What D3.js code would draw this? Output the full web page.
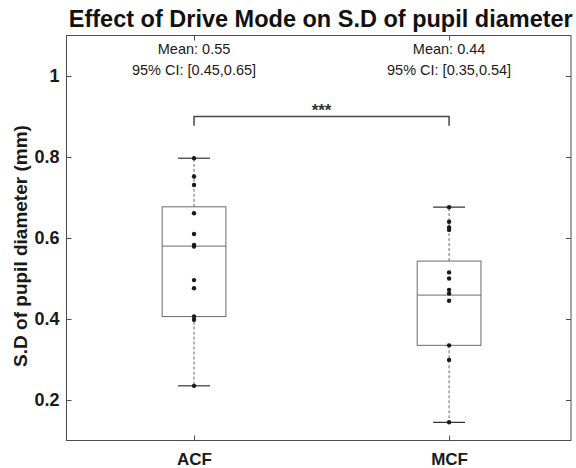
<!DOCTYPE html>
<html>
<head>
<meta charset="utf-8">
<script src="https://cdn.jsdelivr.net/npm/d3@7"></script>
<style>
  body { margin: 0; background: #fff; }
  svg text { font-family: "Liberation Sans", Arial, Helvetica, sans-serif; }
</style>
</head>
<body>
<div id="chart"></div>
<script>
// values
const categories = ["ACF", "MCF"];
const acfValues = [0.797, 0.752, 0.731, 0.661, 0.610, 0.583, 0.579, 0.496, 0.476, 0.406, 0.398, 0.235];
const mcfValues = [0.676, 0.640, 0.626, 0.620, 0.515, 0.500, 0.472, 0.463, 0.445, 0.335, 0.299, 0.145];
const whiskerLow = [0.235, 0.145];
const q1 = [0.406, 0.335];
const medians = [0.580, 0.459];
const q3 = [0.677, 0.543];
const whiskerHigh = [0.797, 0.676];
const meanLabels = ["Mean: 0.55", "Mean: 0.44"];
const ciLabels = ["95% CI: [0.45,0.65]", "95% CI: [0.35,0.54]"];
const yTicks = [0.2, 0.4, 0.6, 0.8, 1];
const sigLabel = "***";

const config = {
  width: 576,
  height: 468,
  margin: { top: 35.5, right: 5, bottom: 27.5, left: 66.5 },
};

const svg = d3
  .select("#chart")
  .append("svg")
  .attr("width", config.width)
  .attr("height", config.height);

const x = d3.scaleLinear().domain([0.5, 2.478]).range([config.margin.left, config.width - config.margin.right]);
const y = d3.scaleLinear().domain([0.1, 1.1]).range([config.height - config.margin.bottom, config.margin.top]);

const groups = categories.map((c, i) => ({
  name: c,
  pos: i + 1,
  values: i === 0 ? acfValues : mcfValues,
  lo: whiskerLow[i],
  q1: q1[i],
  med: medians[i],
  q3: q3[i],
  hi: whiskerHigh[i],
  mean: meanLabels[i],
  ci: ciLabels[i],
}));

const axisColor = "#4d4d4d";
const boxColor = "#6a6a6a";
const boxW = 0.25;
const capW = 0.125;

// frame
svg
  .append("rect")
  .attr("x", x.range()[0])
  .attr("y", y.range()[1])
  .attr("width", x.range()[1] - x.range()[0])
  .attr("height", y.range()[0] - y.range()[1])
  .attr("fill", "none")
  .attr("stroke", axisColor)
  .attr("stroke-width", 1);

// axes, ticks pointing inwards
const yAxis = svg
  .append("g")
  .attr("transform", `translate(${x.range()[0]},0)`)
  .call(d3.axisLeft(y).tickValues(yTicks).tickFormat(d3.format("")).tickSize(-5).tickPadding(7));
yAxis.select(".domain").remove();
yAxis.selectAll("line").attr("stroke", axisColor);
yAxis.selectAll("text").attr("font-size", 18).attr("font-weight", "bold").attr("fill", "#1a1a1a");

const yAxisR = svg
  .append("g")
  .attr("transform", `translate(${x.range()[1]},0)`)
  .call(d3.axisRight(y).tickValues(yTicks).tickFormat("").tickSize(-5));
yAxisR.select(".domain").remove();
yAxisR.selectAll("line").attr("stroke", axisColor);

const xAxis = svg
  .append("g")
  .attr("transform", `translate(0,${y.range()[0]})`)
  .call(d3.axisBottom(x).tickValues([1, 2]).tickFormat((d) => categories[d - 1]).tickSize(-5).tickPadding(12));
xAxis.select(".domain").remove();
xAxis.selectAll("line").attr("stroke", axisColor);
xAxis.selectAll("text").attr("font-size", 17).attr("font-weight", "bold").attr("fill", "#1a1a1a");

const xAxisT = svg
  .append("g")
  .attr("transform", `translate(0,${y.range()[1]})`)
  .call(d3.axisTop(x).tickValues([1, 2]).tickFormat("").tickSize(-5));
xAxisT.select(".domain").remove();
xAxisT.selectAll("line").attr("stroke", axisColor);

// boxes
const g = svg.selectAll(".group").data(groups).join("g").attr("class", "group");

g.append("line")
  .attr("x1", (d) => x(d.pos))
  .attr("x2", (d) => x(d.pos))
  .attr("y1", (d) => y(d.q3))
  .attr("y2", (d) => y(d.hi))
  .attr("stroke", boxColor)
  .attr("stroke-dasharray", "3,2");

g.append("line")
  .attr("x1", (d) => x(d.pos))
  .attr("x2", (d) => x(d.pos))
  .attr("y1", (d) => y(d.q1))
  .attr("y2", (d) => y(d.lo))
  .attr("stroke", boxColor)
  .attr("stroke-dasharray", "3,2");

g.selectAll(".cap")
  .data((d) => [d.lo, d.hi].map((v) => ({ pos: d.pos, v })))
  .join("line")
  .attr("class", "cap")
  .attr("x1", (d) => x(d.pos - capW / 2))
  .attr("x2", (d) => x(d.pos + capW / 2))
  .attr("y1", (d) => y(d.v))
  .attr("y2", (d) => y(d.v))
  .attr("stroke", "#333")
  .attr("stroke-width", 1.2);

g.append("rect")
  .attr("x", (d) => x(d.pos - boxW / 2))
  .attr("y", (d) => y(d.q3))
  .attr("width", (d) => x(d.pos + boxW / 2) - x(d.pos - boxW / 2))
  .attr("height", (d) => y(d.q1) - y(d.q3))
  .attr("fill", "none")
  .attr("stroke", boxColor);

g.append("line")
  .attr("x1", (d) => x(d.pos - boxW / 2))
  .attr("x2", (d) => x(d.pos + boxW / 2))
  .attr("y1", (d) => y(d.med))
  .attr("y2", (d) => y(d.med))
  .attr("stroke", boxColor);

g.selectAll("circle")
  .data((d) => d.values.map((v) => ({ pos: d.pos, v })))
  .join("circle")
  .attr("cx", (d) => x(d.pos))
  .attr("cy", (d) => y(d.v))
  .attr("r", 2.2)
  .attr("fill", "#1a1a1a");

// mean / CI annotations
g.append("text")
  .attr("x", (d) => x(d.pos))
  .attr("y", 54)
  .attr("text-anchor", "middle")
  .attr("font-size", 14.5)
  .attr("fill", "#1a1a1a")
  .text((d) => d.mean);

g.append("text")
  .attr("x", (d) => x(d.pos))
  .attr("y", 75)
  .attr("text-anchor", "middle")
  .attr("font-size", 14.5)
  .attr("fill", "#1a1a1a")
  .text((d) => d.ci);

// significance bracket
const bracketY = 0.9;
const bracketDrop = 0.877;
svg
  .append("path")
  .attr("d", d3.line()([
    [x(1), y(bracketDrop)],
    [x(1), y(bracketY)],
    [x(2), y(bracketY)],
    [x(2), y(bracketDrop)],
  ]))
  .attr("fill", "none")
  .attr("stroke", "#444")
  .attr("stroke-width", 1.5);

svg
  .append("text")
  .attr("x", x(1.5))
  .attr("y", y(bracketY) - 1)
  .attr("text-anchor", "middle")
  .attr("font-size", 17)
  .attr("font-weight", "bold")
  .attr("fill", "#333")
  .text(sigLabel);

// title and y label
svg
  .append("text")
  .attr("x", (x.range()[0] + x.range()[1]) / 2 + 2)
  .attr("y", 27)
  .attr("text-anchor", "middle")
  .attr("font-size", 23.5)
  .attr("font-weight", "bold")
  .attr("fill", "#111")
  .text("Effect of Drive Mode on S.D of pupil diameter");

svg
  .append("text")
  .attr("transform", `translate(27,${(y.range()[0] + y.range()[1]) / 2 + 8}) rotate(-90)`)
  .attr("text-anchor", "middle")
  .attr("font-size", 19)
  .attr("font-weight", "bold")
  .attr("fill", "#1a1a1a")
  .text("S.D of pupil diameter (mm)");
</script>
</body>
</html>
